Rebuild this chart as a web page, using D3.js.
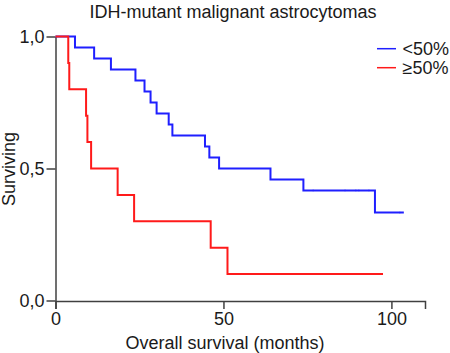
<!DOCTYPE html>
<html>
<head>
<meta charset="utf-8">
<script src="https://cdn.jsdelivr.net/npm/d3@7"></script>
<style>
  body { margin: 0; background: #fff; }
  text { font-family: "Liberation Sans", Arial, sans-serif; }
</style>
</head>
<body>
<div id="chart"></div>
<script>
// Kaplan-Meier data (months, survival fraction)
const lowTimes = [5.8, 11.5, 16.5, 23.8, 26.5, 28.3, 30.1, 33.7, 34.8, 44.5, 45.8, 48.7, 64, 73.8, 95.1];
const lowSurv = [0.958, 0.917, 0.875, 0.833, 0.792, 0.75, 0.708, 0.667, 0.625, 0.583, 0.542, 0.5, 0.458, 0.417, 0.333];
const lowEnd = 103.7;
const lowCensor = [76.7, 86.2, 89.4, 90.3, 93.3, 102.5];

const highTimes = [3.8, 4.1, 9.1, 9.5, 10.6, 18.5, 23.4, 46.2, 51.2];
const highSurv = [0.9, 0.8, 0.7, 0.6, 0.5, 0.4, 0.3, 0.2, 0.1];
const highEnd = 97.5;

const xTicks = [0, 50, 100];
const yTicks = [0, 0.5, 1];
const legendLabels = ["<50%", "≥50%"];
const colors = ["#1f1fff", "#ff1a1a"];

const width = 450, height = 353;
const fontSize = 18;

const svg = d3.select("#chart").append("svg")
    .attr("width", width)
    .attr("height", height);

const x = d3.scaleLinear().domain([0, 110]).range([55.5, 425]);
const y = d3.scaleLinear().domain([0, 1]).range([300.5, 36.5]);

// axes
const fmt = d => d3.format(".1f")(d).replace(".", ",");

const xAxis = svg.append("g")
    .attr("transform", "translate(0,301)")
    .call(d3.axisBottom(x).tickValues(xTicks).tickSize(8).tickSizeOuter(8).tickPadding(3));

const yAxis = svg.append("g")
    .attr("transform", "translate(55.5,0)")
    .call(d3.axisLeft(y).tickValues(yTicks).tickFormat(fmt).tickSize(9).tickSizeOuter(0).tickPadding(2));

[xAxis, yAxis].forEach(a => {
    a.selectAll("path, line").attr("stroke", "#404040").attr("stroke-width", 1.5);
    a.selectAll("text").attr("font-size", fontSize).attr("fill", "#1a1a1a")
        .attr("font-family", "'Liberation Sans', Arial, sans-serif");
});

// step curves
const line = d3.line()
    .x(d => x(d[0]))
    .y(d => y(d[1]))
    .curve(d3.curveStepAfter);

function km(times, surv, end) {
    const pts = [[0, 1]];
    times.forEach((t, i) => pts.push([t, surv[i]]));
    pts.push([end, surv[surv.length - 1]]);
    return pts;
}

function survAt(times, surv, t) {
    let s = 1;
    times.forEach((ti, i) => { if (ti <= t) s = surv[i]; });
    return s;
}

svg.append("path")
    .attr("d", line(km(lowTimes, lowSurv, lowEnd)))
    .attr("fill", "none")
    .attr("stroke", colors[0])
    .attr("stroke-width", 2);

// censor marks, barely visible in the original
svg.selectAll(".censor")
    .data(lowCensor)
    .enter().append("line")
    .attr("class", "censor")
    .attr("x1", d => x(d)).attr("x2", d => x(d))
    .attr("y1", d => y(survAt(lowTimes, lowSurv, d)) - 1)
    .attr("y2", d => y(survAt(lowTimes, lowSurv, d)) + 1)
    .attr("stroke", colors[0])
    .attr("stroke-opacity", 0.6)
    .attr("stroke-width", 0.8);

svg.append("path")
    .attr("d", line(km(highTimes, highSurv, highEnd)))
    .attr("fill", "none")
    .attr("stroke", colors[1])
    .attr("stroke-width", 2);

// title and axis labels
svg.append("text")
    .attr("x", 233).attr("y", 18)
    .attr("text-anchor", "middle")
    .attr("font-size", fontSize)
    .attr("fill", "#1a1a1a")
    .text("IDH-mutant malignant astrocytomas");

svg.append("text")
    .attr("x", 225).attr("y", 349)
    .attr("text-anchor", "middle")
    .attr("font-size", fontSize)
    .attr("fill", "#1a1a1a")
    .text("Overall survival (months)");

svg.append("text")
    .attr("transform", "translate(15,169) rotate(-90)")
    .attr("text-anchor", "middle")
    .attr("font-size", fontSize)
    .attr("fill", "#1a1a1a")
    .text("Surviving");

// legend
const legend = svg.selectAll(".legend")
    .data(legendLabels)
    .enter().append("g")
    .attr("class", "legend")
    .attr("transform", (d, i) => `translate(377,${48.7 + i * 19})`);

legend.append("line")
    .attr("x1", 0).attr("x2", 19)
    .attr("stroke", (d, i) => colors[i])
    .attr("stroke-width", 1.5);

legend.append("text")
    .attr("x", 25.5).attr("y", 6.5)
    .attr("font-size", fontSize)
    .attr("fill", "#1a1a1a")
    .text(d => d);
</script>
</body>
</html>
